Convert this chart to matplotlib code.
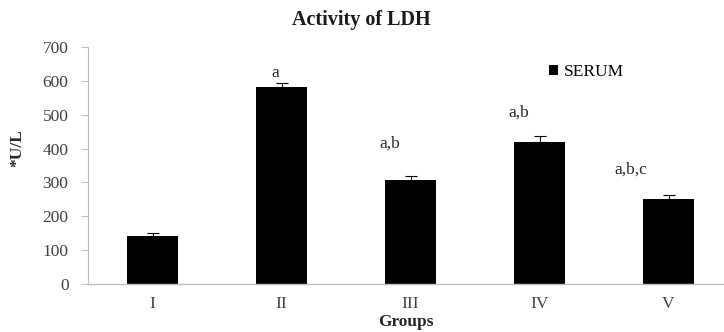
import numpy as np
import matplotlib.pyplot as plt
from matplotlib.patches import Patch

# LDH activity in serum per group
groups = ['I', 'II', 'III', 'IV', 'V']
serum = [143, 581, 307, 419, 252]
serum_err = [9, 13, 13, 18, 11]

# significance letters and where they sit (x in group units, y in U/L)
sig_labels = ['a', 'a,b', 'a,b', 'a,b,c']
sig_x = [0.95, 1.84, 2.84, 3.71]
sig_y = [623, 416, 505, 337]

plt.rcParams['font.family'] = ['Liberation Serif', 'DejaVu Serif']

fig = plt.figure(figsize=(7.24, 3.32), dpi=100)
ax = fig.add_axes([88 / 724, 48 / 332, (724 - 88) / 724, 237 / 332])

x = np.arange(len(groups))
ax.bar(x, serum, width=0.4, color='black', zorder=2)
ax.errorbar(x, serum, yerr=[np.zeros(len(serum)), serum_err], fmt='none',
            ecolor='black', elinewidth=0.8, capsize=4, capthick=0.8, zorder=3)

for lab, lx, ly in zip(sig_labels, sig_x, sig_y):
    ax.text(lx, ly, lab, ha='center', va='center', fontsize=12.5, color='#262626')

ax.set_xlim(-0.5, 4.43)
ax.set_ylim(0, 700)
ax.set_yticks(range(0, 701, 100))
ax.set_xticks(x)
ax.set_xticklabels(groups)

for side in ['top', 'right']:
    ax.spines[side].set_visible(False)
ax.spines['left'].set_color('#bfbfbf')
ax.spines['bottom'].set_color('#bfbfbf')
ax.spines['left'].set_linewidth(0.8)
ax.spines['bottom'].set_linewidth(1.0)
ax.tick_params(axis='y', colors='#bfbfbf', labelcolor='#404040', labelsize=12.5,
               length=5, width=0.8, pad=9)
ax.tick_params(axis='x', length=0, labelcolor='#404040', labelsize=12.5, pad=9)

ax.set_ylabel('*U/L', fontsize=12.5, fontweight='bold', color='#262626')
ax.yaxis.set_label_coords(-0.098, 0.574)
ax.set_xlabel('Groups', fontsize=12.5, fontweight='bold', color='#262626', labelpad=1)

fig.text(361 / 724, 1 - 20 / 332, 'Activity of LDH', ha='center', va='center',
         fontsize=14.5, fontweight='bold', color='#1a1a1a')

ax.legend(handles=[Patch(facecolor='black', label='SERUM')], loc='center left',
          bbox_to_anchor=(0.7, 0.895), frameon=False, fontsize=12.5,
          handlelength=0.55, handleheight=0.55, handletextpad=0.3)

fig.savefig('out.png', dpi=100)
